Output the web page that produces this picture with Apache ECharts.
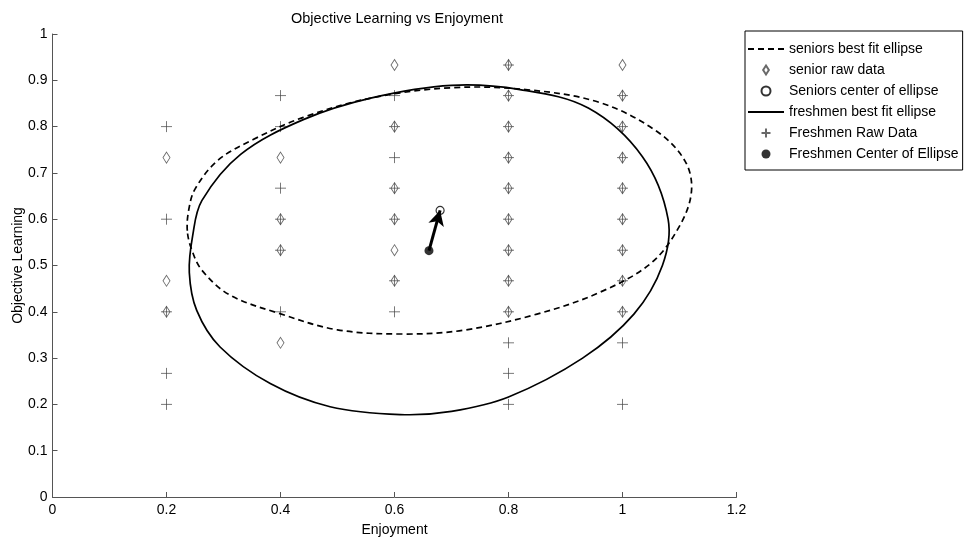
<!DOCTYPE html>
<html>
<head>
<meta charset="utf-8">
<script src="https://cdn.jsdelivr.net/npm/echarts@6/dist/echarts.min.js"></script>
<style>
  html, body { margin: 0; padding: 0; background: #fff; }
  #main { width: 964px; height: 544px; }
</style>
</head>
<body>
<div id="main"></div>
<script>
// columns of the raw answers (Enjoyment)
var xCols = [0.2, 0.4, 0.6, 0.8, 1.0];

// senior raw data, one list of Objective Learning values per column
var seniorY = [
  [0.733, 0.467, 0.4],
  [0.733, 0.6, 0.533, 0.333],
  [0.933, 0.8, 0.667, 0.6, 0.533, 0.467],
  [0.933, 0.867, 0.8, 0.733, 0.667, 0.6, 0.533, 0.467, 0.4],
  [0.933, 0.867, 0.8, 0.733, 0.667, 0.6, 0.533, 0.467, 0.4]
];

// freshmen raw data
var freshY = [
  [0.8, 0.6, 0.4, 0.267, 0.2],
  [0.867, 0.8, 0.667, 0.6, 0.533, 0.4],
  [0.867, 0.8, 0.733, 0.667, 0.6, 0.467, 0.4],
  [0.933, 0.867, 0.8, 0.733, 0.667, 0.6, 0.533, 0.467, 0.4, 0.333, 0.267, 0.2],
  [0.867, 0.8, 0.733, 0.667, 0.6, 0.533, 0.467, 0.4, 0.333, 0.2]
];

// centers of the fitted ellipses
var seniorCenter = [0.680, 0.619];
var freshCenter = [0.6605, 0.532];

// points read along the fitted ellipses (going round once)
var seniorEllipse = [
  [0.2365, 0.575], [0.239, 0.620], [0.250, 0.665], [0.290, 0.727], [0.352, 0.772],
  [0.440, 0.820], [0.560, 0.862], [0.700, 0.884], [0.830, 0.880], [0.960, 0.852],
  [1.060, 0.790], [1.110, 0.725], [1.121, 0.660], [1.100, 0.585], [1.050, 0.505],
  [0.960, 0.442], [0.850, 0.395], [0.720, 0.360], [0.615, 0.352], [0.500, 0.361],
  [0.399, 0.396], [0.310, 0.437], [0.262, 0.490], [0.244, 0.535]
];
var freshEllipse = [
  [0.240, 0.485], [0.246, 0.565], [0.262, 0.640], [0.330, 0.740], [0.440, 0.815],
  [0.560, 0.862], [0.700, 0.889], [0.820, 0.880], [0.940, 0.840], [1.035, 0.735],
  [1.080, 0.600], [1.070, 0.500], [1.020, 0.395], [0.930, 0.300], [0.800, 0.216],
  [0.700, 0.185], [0.610, 0.178], [0.487, 0.195], [0.382, 0.245], [0.294, 0.324],
  [0.253, 0.403]
];

var xTicks = { min: 0, max: 1.2, interval: 0.2 };
var yTicks = { min: 0, max: 1, interval: 0.1 };

function columnsToPoints(cols) {
  var out = [];
  for (var i = 0; i < xCols.length; i++) {
    for (var j = 0; j < cols[i].length; j++) {
      out.push([xCols[i], cols[i][j]]);
    }
  }
  return out;
}

// closed smooth curve through the read points, placed with the axes' own scales
function ellipseRenderer(points, dash) {
  return function (params, api) {
    if (params.dataIndex !== 0) return null;
    var pts = points.map(function (p) { return api.coord(p); });
    return {
      type: 'polygon',
      silent: true,
      shape: { points: pts, smooth: 0.35 },
      style: { fill: 'none', stroke: '#000', lineWidth: 1.7, lineDash: dash }
    };
  };
}

var FONT = 'Liberation Sans, Arial, sans-serif';
var DIAMOND = 'path://M3.5,0L7,5.5L3.5,11L0,5.5Z';
var PLUS = 'path://M0,5L10,5M5,0L5,10';
var chart = echarts.init(document.getElementById('main'), null, { renderer: 'canvas' });

chart.setOption({
  animation: false,
  backgroundColor: '#fff',
  title: {
    text: 'Objective Learning vs Enjoyment',
    left: 286,
    top: 6,
    textStyle: { fontFamily: FONT, fontSize: 14.5, fontWeight: 'normal', color: '#000' }
  },
  grid: { left: 52.5, right: 227.5, top: 34, bottom: 47 },
  legend: {
    orient: 'vertical',
    left: 745,
    top: 31,
    padding: [11, 4, 9, 2],
    itemGap: 7,
    itemWidth: 36,
    itemHeight: 9,
    borderColor: '#000',
    borderWidth: 1,
    backgroundColor: '#fff',
    textStyle: { fontFamily: FONT, fontSize: 14, color: '#000' },
    data: [
      'seniors best fit ellipse',
      'senior raw data',
      'Seniors center of ellipse',
      'freshmen best fit ellipse',
      'Freshmen Raw Data',
      'Freshmen Center of Ellipse'
    ]
  },
  xAxis: {
    type: 'value',
    min: xTicks.min,
    max: xTicks.max,
    interval: xTicks.interval,
    name: 'Enjoyment',
    nameLocation: 'middle',
    nameGap: 26,
    nameTextStyle: { fontFamily: FONT, fontSize: 14, color: '#000' },
    splitLine: { show: false },
    axisLine: { lineStyle: { color: '#555', width: 1 } },
    axisTick: { inside: true, length: 5, lineStyle: { color: '#555' } },
    axisLabel: { fontFamily: FONT, fontSize: 14, color: '#000', margin: 6 }
  },
  yAxis: {
    type: 'value',
    min: yTicks.min,
    max: yTicks.max,
    interval: yTicks.interval,
    name: 'Objective Learning',
    nameLocation: 'middle',
    nameGap: 27,
    nameMoveOverlap: false,
    nameTextStyle: { fontFamily: FONT, fontSize: 14, color: '#000' },
    splitLine: { show: false },
    axisLine: { lineStyle: { color: '#555', width: 1 } },
    axisTick: { inside: true, length: 5, lineStyle: { color: '#555' } },
    axisLabel: { fontFamily: FONT, fontSize: 14, color: '#000', margin: 5 }
  },
  series: [
    {
      // legend entry only; the curve itself is drawn by the custom series below
      name: 'seniors best fit ellipse',
      type: 'line',
      data: [],
      symbol: 'circle',
      showSymbol: false,
      lineStyle: { color: '#000', width: 1.7, type: [6, 4] },
      itemStyle: { color: 'rgba(0,0,0,0)', borderWidth: 0 }
    },
    {
      name: 'seniors best fit ellipse',
      type: 'custom',
      coordinateSystem: 'cartesian2d',
      data: seniorEllipse,
      encode: { x: 0, y: 1 },
      renderItem: ellipseRenderer(seniorEllipse, [6, 4]),
      z: 3
    },
    {
      name: 'senior raw data',
      type: 'scatter',
      data: columnsToPoints(seniorY),
      symbol: DIAMOND,
      symbolSize: [7, 11],
      itemStyle: { color: 'rgba(0,0,0,0)', borderColor: '#444', borderWidth: 0.9 },
      z: 2
    },
    {
      name: 'Seniors center of ellipse',
      type: 'scatter',
      data: [seniorCenter],
      symbol: 'circle',
      symbolSize: 8,
      itemStyle: { color: 'rgba(0,0,0,0)', borderColor: '#000', borderWidth: 1.2 },
      z: 5
    },
    {
      name: 'freshmen best fit ellipse',
      type: 'line',
      data: [],
      symbol: 'circle',
      showSymbol: false,
      lineStyle: { color: '#000', width: 1.7, type: 'solid' },
      itemStyle: { color: 'rgba(0,0,0,0)', borderWidth: 0 }
    },
    {
      name: 'freshmen best fit ellipse',
      type: 'custom',
      coordinateSystem: 'cartesian2d',
      data: freshEllipse,
      encode: { x: 0, y: 1 },
      renderItem: ellipseRenderer(freshEllipse, null),
      z: 3
    },
    {
      name: 'Freshmen Raw Data',
      type: 'scatter',
      data: columnsToPoints(freshY),
      symbol: PLUS,
      symbolSize: 11,
      itemStyle: { color: 'rgba(0,0,0,0)', borderColor: '#444', borderWidth: 0.9 },
      z: 2
    },
    {
      name: 'Freshmen Center of Ellipse',
      type: 'scatter',
      data: [freshCenter],
      symbol: 'circle',
      symbolSize: 9,
      itemStyle: { color: '#000' },
      z: 5,
      markLine: {
        silent: true,
        symbol: ['none', 'arrow'],
        symbolSize: [12, 15],
        label: { show: false },
        lineStyle: { color: '#000', width: 3, type: 'solid' },
        data: [[{ coord: freshCenter }, { coord: seniorCenter }]]
      }
    }
  ]
});
</script>
</body>
</html>
